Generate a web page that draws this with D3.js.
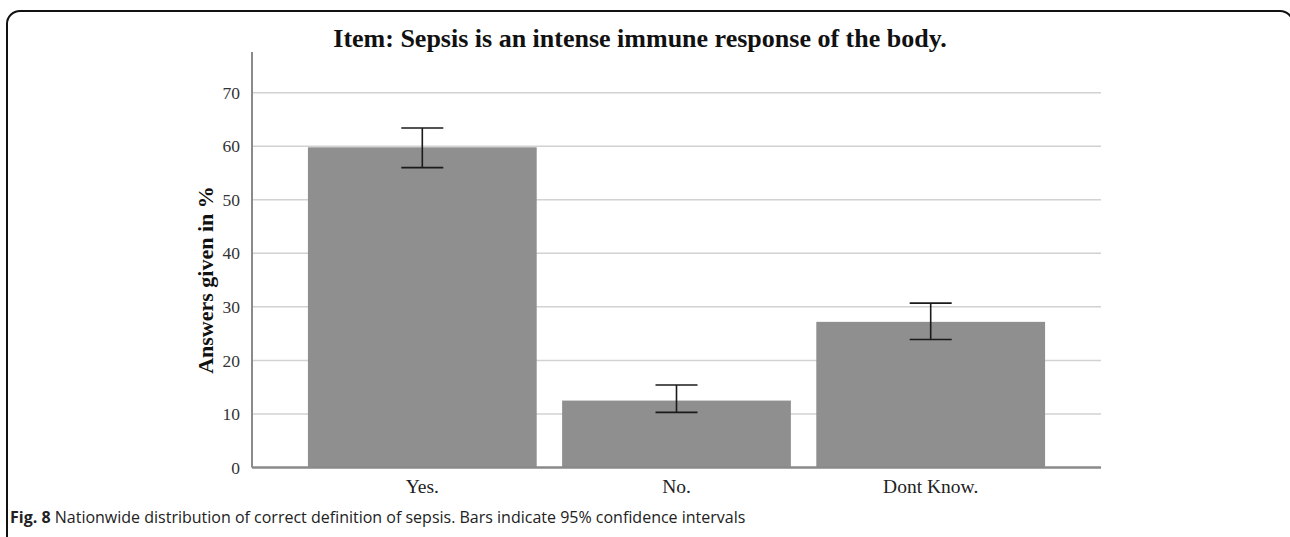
<!DOCTYPE html>
<html>
<head>
<meta charset="utf-8">
<script src="https://cdn.jsdelivr.net/npm/d3@7"></script>
<style>
  html, body { margin: 0; padding: 0; background: #fff; }
  svg { display: block; }
</style>
</head>
<body>
<svg id="chart" width="1290" height="537"></svg>
<script>
// Answers to the item, in percent, with 95% confidence limits
const categories = ["Yes.", "No.", "Dont Know."];
const percentages = [59.8, 12.5, 27.2];
const ciLower = [56.0, 10.3, 23.9];
const ciUpper = [63.4, 15.4, 30.7];
const yTicks = [0, 10, 20, 30, 40, 50, 60, 70];

const titleText = "Item: Sepsis is an intense immune response of the body.";
const yLabelText = "Answers given in %";
const captionBold = "Fig. 8";
const captionText = " Nationwide distribution of correct definition of sepsis. Bars indicate 95% confidence intervals";

const svg = d3.select("#chart");

// frame with rounded corners (runs past the right and bottom edges)
svg.append("rect")
  .attr("x", 7).attr("y", 11)
  .attr("width", 1286).attr("height", 545)
  .attr("rx", 13).attr("ry", 13)
  .attr("fill", "none")
  .attr("stroke", "#111")
  .attr("stroke-width", 2);

const plot = { left: 252, right: 1101, top: 52, bottom: 467.5 };

const x = d3.scaleBand()
  .domain(categories)
  .range([plot.left, plot.right])
  .paddingInner(0.1)
  .paddingOuter(0.22);

const y = d3.scaleLinear()
  .domain([0, 77.6])
  .range([plot.bottom, plot.top]);

const serif = "'Liberation Serif', 'Times New Roman', serif";

// horizontal gridlines
svg.append("g")
  .selectAll("line")
  .data(yTicks.filter(d => d > 0))
  .join("line")
  .attr("x1", plot.left).attr("x2", plot.right)
  .attr("y1", d => y(d)).attr("y2", d => y(d))
  .attr("stroke", "#d2d2d2")
  .attr("stroke-width", 1.5);

// y axis labels
const yAxis = d3.axisLeft(y).tickValues(yTicks).tickSize(0).tickPadding(12);
const gy = svg.append("g")
  .attr("transform", `translate(${plot.left},0)`)
  .call(yAxis);
gy.select(".domain").remove();
gy.selectAll("text")
  .attr("font-family", serif)
  .attr("font-size", 17.5)
  .attr("fill", "#333");

// bars
svg.append("g")
  .selectAll("rect")
  .data(categories)
  .join("rect")
  .attr("x", d => x(d))
  .attr("width", x.bandwidth())
  .attr("y", (d, i) => y(percentages[i]))
  .attr("height", (d, i) => y(0) - y(percentages[i]))
  .attr("fill", "#8f8f8f");

// axis lines
svg.append("line")
  .attr("x1", plot.left).attr("x2", plot.left)
  .attr("y1", plot.top).attr("y2", plot.bottom)
  .attr("stroke", "#8a8a8a").attr("stroke-width", 2);

const xAxis = d3.axisBottom(x).tickSize(0).tickPadding(12);
const gx = svg.append("g")
  .attr("transform", `translate(0,${plot.bottom})`)
  .call(xAxis);
gx.select(".domain")
  .attr("d", `M${plot.left},0H${plot.right}`)
  .attr("stroke", "#8a8a8a")
  .attr("stroke-width", 2.5);
gx.selectAll("text")
  .attr("font-family", serif)
  .attr("font-size", 19.5)
  .attr("fill", "#222");

// confidence interval whiskers
const capHalf = 21;
const eb = svg.append("g")
  .attr("stroke", "#1a1a1a")
  .attr("stroke-width", 1.6)
  .attr("fill", "none");
categories.forEach((c, i) => {
  const cx = x(c) + x.bandwidth() / 2;
  eb.append("line")
    .attr("x1", cx).attr("x2", cx)
    .attr("y1", y(ciLower[i])).attr("y2", y(ciUpper[i]));
  eb.append("line")
    .attr("x1", cx - capHalf).attr("x2", cx + capHalf)
    .attr("y1", y(ciUpper[i])).attr("y2", y(ciUpper[i]));
  eb.append("line")
    .attr("x1", cx - capHalf).attr("x2", cx + capHalf)
    .attr("y1", y(ciLower[i])).attr("y2", y(ciLower[i]));
});

// title
svg.append("text")
  .attr("x", 640).attr("y", 47)
  .attr("text-anchor", "middle")
  .attr("font-family", serif)
  .attr("font-weight", "bold")
  .attr("font-size", 26)
  .attr("fill", "#111")
  .text(titleText);

// y axis title
svg.append("text")
  .attr("transform", `translate(213,280) rotate(-90)`)
  .attr("text-anchor", "middle")
  .attr("font-family", serif)
  .attr("font-weight", "bold")
  .attr("font-size", 22)
  .attr("fill", "#111")
  .text(yLabelText);

// caption
const cap = svg.append("text")
  .attr("x", 10).attr("y", 523)
  .attr("font-family", "'Open Sans', 'Noto Sans', sans-serif")
  .attr("font-size", 16)
  .attr("fill", "#222");
cap.append("tspan").attr("font-weight", "bold").text(captionBold);
cap.append("tspan").text(captionText);
</script>
</body>
</html>
